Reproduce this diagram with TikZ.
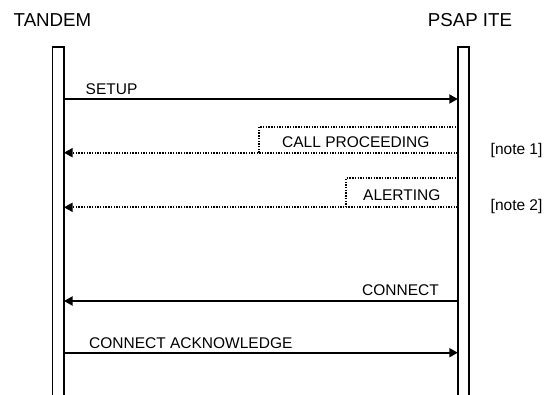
\documentclass[tikz,border=0pt]{standalone}
\usepackage{fontspec}
\setmainfont{Liberation Sans}
\usetikzlibrary{arrows.meta}
\begin{document}
\begin{tikzpicture}[x=1pt,y=-1pt,
  hdr/.style={font=\fontsize{18.7}{22}\selectfont,inner sep=0pt,anchor=base},
  lbl/.style={font=\fontsize{15.5}{18}\selectfont,inner sep=0pt,anchor=base west},
  bar/.style={line width=1.9pt},
  msg/.style={line width=1.8pt,-{Triangle[length=8.5pt,width=9pt]}},
  dmsg/.style={line width=1.7pt,dash pattern=on 1.4pt off 1.3pt,-{Triangle[length=8.5pt,width=9pt]}},
  dbox/.style={line width=1.7pt,dash pattern=on 1.4pt off 1.3pt}]
\useasboundingbox (0,0) rectangle (549,394);
% headers
\node[hdr] (tandem) at (52.5,26.7) {TANDEM};
\node[hdr] (psap) at (470,26.7) {PSAP ITE};
% lifelines
\draw[bar] (52.5,396) -- (52.5,47) -- (64,47) -- (64,396);
\draw[bar] (457.8,396) -- (457.8,47) -- (469.3,47) -- (469.3,396);
% coordinates
\coordinate (l1) at (64,99);     \coordinate (r1) at (457.8,99);
\coordinate (l2) at (64,152.7);  \coordinate (r2) at (457.8,152.7);
\coordinate (l3) at (64,207.3);  \coordinate (r3) at (457.8,207.3);
\coordinate (l4) at (64,301);    \coordinate (r4) at (457.8,301);
\coordinate (l5) at (64,352.7);  \coordinate (r5) at (457.8,352.7);
% SETUP
\draw[msg] (l1) -- (r1);
\node[lbl] (setup) at (85.5,94.7) {SETUP};
% CALL PROCEEDING
\draw[dmsg] (r2) -- (l2);
\draw[dbox] (259.3,152.7) -- (259.3,126.7) -- (457.8,126.7);
\node[lbl] (callp) at (282,147) {CALL PROCEEDING};
\node[lbl] (note1) at (490.5,154.3) {[note 1]};
% ALERTING
\draw[dmsg] (r3) -- (l3);
\draw[dbox] (346,207.3) -- (346,178.3) -- (457.8,178.3);
\node[lbl] (alert) at (363,200.5) {ALERTING};
\node[lbl] (note2) at (490.5,210.3) {[note 2]};
% CONNECT
\draw[msg] (r4) -- (l4);
\node[lbl] (conn) at (362,295) {CONNECT};
% CONNECT ACKNOWLEDGE
\draw[msg] (l5) -- (r5);
\node[lbl] (connack) at (89,348.3) {CONNECT ACKNOWLEDGE};
\end{tikzpicture}
\end{document}
